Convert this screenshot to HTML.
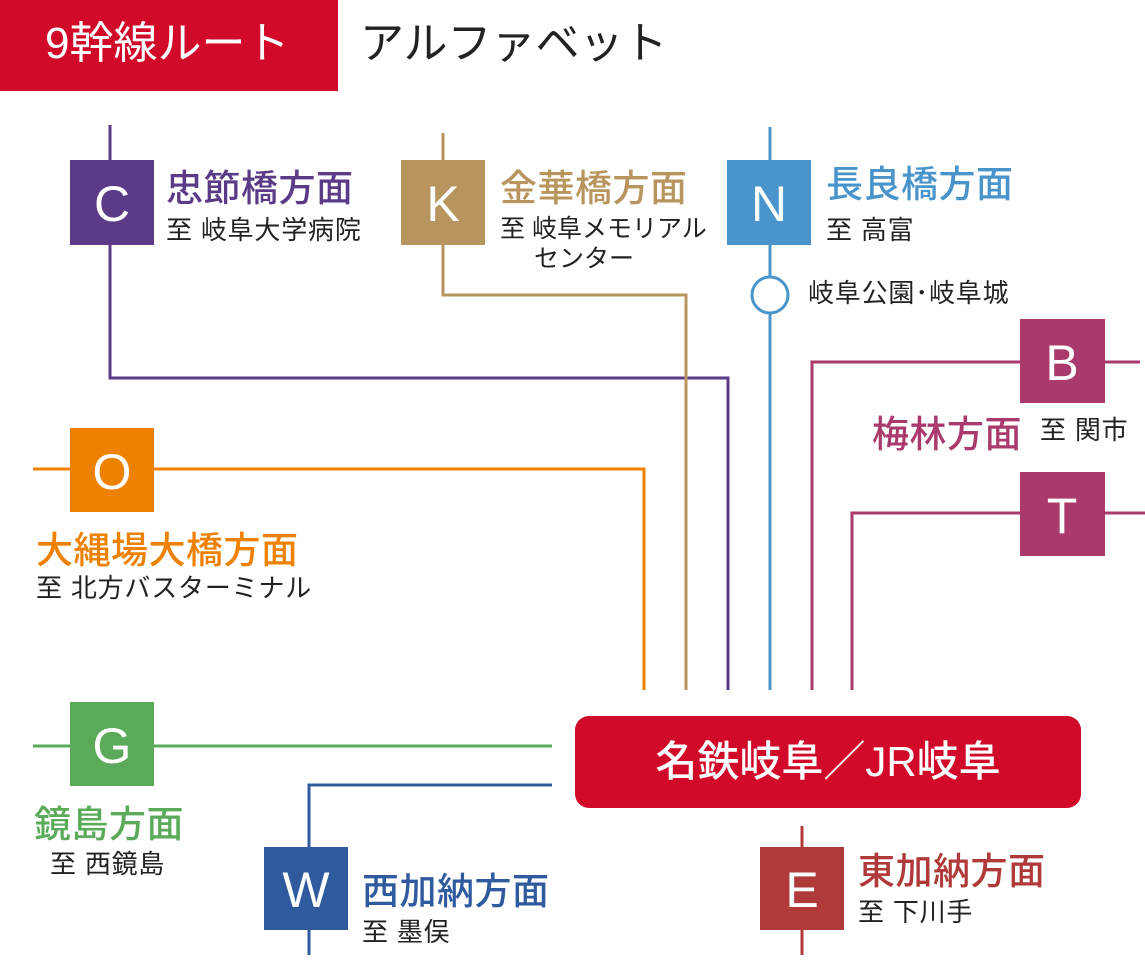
<!DOCTYPE html>
<html><head><meta charset="utf-8"><style>
body{margin:0;width:1145px;height:973px;background:#fff;overflow:hidden;position:relative;font-family:"Liberation Sans","Noto Sans CJK JP",sans-serif}
.t{position:absolute;white-space:nowrap;line-height:1}
.h{font-size:37px;font-weight:500;letter-spacing:0.5px}
.s{font-size:26px;letter-spacing:0.8px;color:#222}
</style></head><body>
<svg width="1145" height="973" style="position:absolute;left:0;top:0" fill="none" stroke-width="3">
<rect x="0" y="0" width="338" height="91" fill="#d20a2a" stroke="none"/>
<polyline points="110,125 110,378 728,378 728,690" stroke="#5b3a87"/>
<polyline points="443,133 443,295 686,295 686,690" stroke="#b8955e"/>
<line x1="770" y1="127" x2="770" y2="690" stroke="#4a94cc"/>
<circle cx="770" cy="295" r="18" fill="#fff" stroke="#4a94cc"/>
<polyline points="1140,362 812,362 812,690" stroke="#a93a6b"/>
<polyline points="1145,513 852,513 852,690" stroke="#a93a6b"/>
<polyline points="33,469 644,469 644,690" stroke="#ee8100"/>
<line x1="33" y1="746" x2="552" y2="746" stroke="#5aaa5a"/>
<polyline points="552,785 309,785 309,955" stroke="#2f5a9e"/>
<line x1="802" y1="826" x2="802" y2="955" stroke="#b03a3a"/>
<g stroke="none">
<rect x="70" y="160" width="84" height="85" fill="#5b3a87"/>
<rect x="401" y="160" width="84" height="85" fill="#b8955e"/>
<rect x="727" y="160" width="84" height="85" fill="#4a94cc"/>
<rect x="1020" y="319" width="85" height="84" fill="#a93a6b"/>
<rect x="1020" y="472" width="85" height="84" fill="#a93a6b"/>
<rect x="70" y="428" width="84" height="84" fill="#ee8100"/>
<rect x="70" y="702" width="84" height="84" fill="#5aaa5a"/>
<rect x="264" y="847" width="84" height="83" fill="#2f5a9e"/>
<rect x="760" y="847" width="84" height="83" fill="#b03a3a"/>
<rect x="575" y="716" width="506" height="92" rx="14" fill="#d20a2a"/>
</g>
<g fill="#fff" stroke="none" font-family="Liberation Sans, sans-serif" font-size="50" text-anchor="middle">
<text x="112" y="221">C</text><text x="443" y="221">K</text><text x="769" y="221">N</text>
<text x="1062" y="380">B</text><text x="1062" y="533">T</text><text x="112" y="489">O</text>
<text x="112" y="763">G</text><text x="306" y="907">W</text><text x="802" y="907">E</text>
</g>
</svg>
<div class="t" style="left:45px;top:22px;font-size:44px;color:#fff">9幹線ルート</div>
<div class="t" style="left:360px;top:22px;font-size:44px;color:#222">アルファベット</div>
<div class="t h" style="left:166px;top:170px;color:#5b3a87">忠節橋方面</div>
<div class="t s" style="left:166px;top:217px">至 岐阜大学病院</div>
<div class="t h" style="left:500px;top:170px;color:#b8955e">金華橋方面</div>
<div class="t s" style="left:500px;top:217px;font-size:25px;letter-spacing:0">至 岐阜メモリアル</div>
<div class="t s" style="left:534px;top:247px;font-size:25px;letter-spacing:0">センター</div>
<div class="t h" style="left:826px;top:166px;color:#4a94cc">長良橋方面</div>
<div class="t s" style="left:826px;top:217px">至 高富</div>
<div class="t s" style="left:808px;top:280px">岐阜公園･岐阜城</div>
<div class="t h" style="left:872px;top:416px;color:#a93a6b">梅林方面</div>
<div class="t s" style="left:1040px;top:417px">至 関市</div>
<div class="t h" style="left:36px;top:532px;color:#ee8100">大縄場大橋方面</div>
<div class="t s" style="left:36px;top:575px">至 北方バスターミナル</div>
<div class="t h" style="left:34px;top:806px;color:#5aaa5a">鏡島方面</div>
<div class="t s" style="left:50px;top:851px">至 西鏡島</div>
<div class="t h" style="left:362px;top:873px;color:#2f5a9e">西加納方面</div>
<div class="t s" style="left:362px;top:919px">至 墨俣</div>
<div class="t h" style="left:858px;top:853px;color:#b03a3a">東加納方面</div>
<div class="t s" style="left:858px;top:899px">至 下川手</div>
<div class="t" style="left:575px;top:741px;width:506px;text-align:center;font-size:42px;font-weight:500;color:#fff">名鉄岐阜／JR岐阜</div>
</body></html>
